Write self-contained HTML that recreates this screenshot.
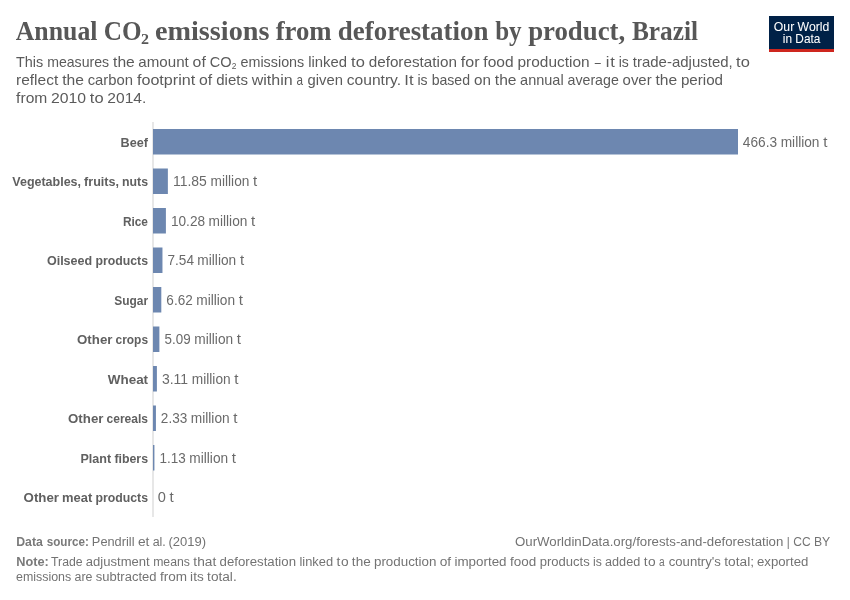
<!DOCTYPE html>
<html>
<head>
<meta charset="utf-8">
<title>Annual CO2 emissions from deforestation by product, Brazil</title>
<style>
html,body{margin:0;padding:0;background:#fff;width:850px;height:600px;overflow:hidden;}
svg{display:block;will-change:transform;}
text{font-family:"Liberation Sans",sans-serif;}
.title{font-family:"Liberation Serif",serif;font-weight:700;font-size:26.5px;fill:#575757;stroke:#575757;stroke-width:0px;}
.title.sb{font-size:14.575000000000001px;}
.sub{font-size:15.0px;fill:#5b5b5b;}
.sub.sb{font-size:9.0px;}
.cat{font-size:13.5px;font-weight:bold;fill:#606060;}
.val{font-size:13.75px;fill:#6a6a6a;}
.foot{font-size:12.5px;fill:#737373;}
.foot.b{font-weight:bold;fill:#7a7a7a;}
.logo{font-size:12.0px;font-weight:normal;fill:#fff;stroke:#fff;stroke-width:0.05px;}
</style>
</head>
<body>
<svg width="850" height="600" viewBox="0 0 850 600">
<rect x="0" y="0" width="850" height="600" fill="#fff"/>
<rect x="152.5" y="122" width="1" height="395" fill="#d0d0d0"/>
<g fill="#6d87b0">
<rect x="153" y="129.00" width="585.00" height="25.5"/>
<rect x="153" y="168.50" width="14.87" height="25.5"/>
<rect x="153" y="208.00" width="12.90" height="25.5"/>
<rect x="153" y="247.50" width="9.46" height="25.5"/>
<rect x="153" y="287.00" width="8.31" height="25.5"/>
<rect x="153" y="326.50" width="6.39" height="25.5"/>
<rect x="153" y="366.00" width="3.90" height="25.5"/>
<rect x="153" y="405.50" width="2.92" height="25.5"/>
<rect x="153" y="445.00" width="1.42" height="25.5"/>
</g>
<rect x="769" y="16" width="65" height="33" fill="#002147"/>
<rect x="769" y="49" width="65" height="3" fill="#ce261e"/>
<text class="logo" x="801.6" y="30.9" text-anchor="middle" textLength="55.5" lengthAdjust="spacingAndGlyphs">Our World</text>
<text class="logo" x="801.6" y="42.9" text-anchor="middle" textLength="37.5" lengthAdjust="spacingAndGlyphs">in Data</text>
<text class="title" x="15.75" y="40.00" textLength="81.69" lengthAdjust="spacingAndGlyphs">Annual</text>
<text class="title" x="103.87" y="40.00" textLength="37.76" lengthAdjust="spacingAndGlyphs">CO</text>
<text class="title" x="154.93" y="40.00" textLength="114.55" lengthAdjust="spacingAndGlyphs">emissions</text>
<text class="title" x="275.70" y="40.00" textLength="55.95" lengthAdjust="spacingAndGlyphs">from</text>
<text class="title" x="337.81" y="40.00" textLength="150.70" lengthAdjust="spacingAndGlyphs">deforestation</text>
<text class="title" x="495.18" y="40.00" textLength="26.46" lengthAdjust="spacingAndGlyphs">by</text>
<text class="title" x="528.16" y="40.00" textLength="97.06" lengthAdjust="spacingAndGlyphs">product,</text>
<text class="title" x="631.98" y="40.00" textLength="66.05" lengthAdjust="spacingAndGlyphs">Brazil</text>
<text class="title sb" x="141.13" y="44.00" textLength="8.01" lengthAdjust="spacingAndGlyphs">2</text>
<text class="sub" x="15.90" y="66.60" textLength="27.24" lengthAdjust="spacingAndGlyphs">This</text>
<text class="sub" x="47.15" y="66.60" textLength="61.94" lengthAdjust="spacingAndGlyphs">measures</text>
<text class="sub" x="113.09" y="66.60" textLength="21.72" lengthAdjust="spacingAndGlyphs">the</text>
<text class="sub" x="138.36" y="66.60" textLength="50.43" lengthAdjust="spacingAndGlyphs">amount</text>
<text class="sub" x="192.62" y="66.60" textLength="13.18" lengthAdjust="spacingAndGlyphs">of</text>
<text class="sub" x="209.79" y="66.60" textLength="21.85" lengthAdjust="spacingAndGlyphs">CO</text>
<text class="sub sb" x="231.75" y="68.60" textLength="4.70" lengthAdjust="spacingAndGlyphs">2</text>
<text class="sub" x="240.50" y="66.60" textLength="63.75" lengthAdjust="spacingAndGlyphs">emissions</text>
<text class="sub" x="308.24" y="66.60" textLength="38.83" lengthAdjust="spacingAndGlyphs">linked</text>
<text class="sub" transform="matrix(1.1000,0,0,1,351.07,66.60)" x="0" y="0" textLength="12.59" lengthAdjust="spacing">to</text>
<text class="sub" x="368.69" y="66.60" textLength="88.19" lengthAdjust="spacingAndGlyphs">deforestation</text>
<text class="sub" x="460.83" y="66.60" textLength="18.70" lengthAdjust="spacingAndGlyphs">for</text>
<text class="sub" x="483.34" y="66.60" textLength="30.25" lengthAdjust="spacingAndGlyphs">food</text>
<text class="sub" x="517.52" y="66.60" textLength="72.08" lengthAdjust="spacingAndGlyphs">production</text>
<text class="sub" x="594.76" y="66.60" textLength="6.02" lengthAdjust="spacingAndGlyphs">–</text>
<text class="sub" transform="matrix(1.1000,0,0,1,605.68,66.60)" x="0" y="0" textLength="8.39" lengthAdjust="spacing">it</text>
<text class="sub" x="618.68" y="66.60" textLength="10.12" lengthAdjust="spacingAndGlyphs">is</text>
<text class="sub" x="632.80" y="66.60" textLength="99.92" lengthAdjust="spacingAndGlyphs">trade-adjusted,</text>
<text class="sub" transform="matrix(1.1000,0,0,1,736.06,66.60)" x="0" y="0" textLength="12.59" lengthAdjust="spacing">to</text>
<text class="sub" x="16.03" y="84.60" textLength="42.25" lengthAdjust="spacingAndGlyphs">reflect</text>
<text class="sub" x="62.21" y="84.60" textLength="21.72" lengthAdjust="spacingAndGlyphs">the</text>
<text class="sub" x="87.64" y="84.60" textLength="45.34" lengthAdjust="spacingAndGlyphs">carbon</text>
<text class="sub" x="136.95" y="84.60" textLength="58.23" lengthAdjust="spacingAndGlyphs">footprint</text>
<text class="sub" x="199.01" y="84.60" textLength="13.18" lengthAdjust="spacingAndGlyphs">of</text>
<text class="sub" x="216.22" y="84.60" textLength="31.69" lengthAdjust="spacingAndGlyphs">diets</text>
<text class="sub" x="251.74" y="84.60" textLength="40.91" lengthAdjust="spacingAndGlyphs">within</text>
<text class="sub" x="296.41" y="84.60" textLength="6.50" lengthAdjust="spacingAndGlyphs">a</text>
<text class="sub" x="307.55" y="84.60" textLength="35.37" lengthAdjust="spacingAndGlyphs">given</text>
<text class="sub" x="346.73" y="84.60" textLength="54.39" lengthAdjust="spacingAndGlyphs">country.</text>
<text class="sub" transform="matrix(1.1000,0,0,1,404.21,84.60)" x="0" y="0" textLength="8.63" lengthAdjust="spacing">It</text>
<text class="sub" x="417.46" y="84.60" textLength="10.14" lengthAdjust="spacingAndGlyphs">is</text>
<text class="sub" x="431.63" y="84.60" textLength="38.39" lengthAdjust="spacingAndGlyphs">based</text>
<text class="sub" x="473.99" y="84.60" textLength="16.90" lengthAdjust="spacingAndGlyphs">on</text>
<text class="sub" x="494.80" y="84.60" textLength="21.70" lengthAdjust="spacingAndGlyphs">the</text>
<text class="sub" x="520.09" y="84.60" textLength="43.56" lengthAdjust="spacingAndGlyphs">annual</text>
<text class="sub" x="567.49" y="84.60" textLength="51.33" lengthAdjust="spacingAndGlyphs">average</text>
<text class="sub" x="622.60" y="84.60" textLength="29.04" lengthAdjust="spacingAndGlyphs">over</text>
<text class="sub" x="655.41" y="84.60" textLength="21.70" lengthAdjust="spacingAndGlyphs">the</text>
<text class="sub" x="680.91" y="84.60" textLength="42.15" lengthAdjust="spacingAndGlyphs">period</text>
<text class="sub" x="16.13" y="102.60" textLength="31.19" lengthAdjust="spacingAndGlyphs">from</text>
<text class="sub" x="50.99" y="102.60" textLength="35.08" lengthAdjust="spacingAndGlyphs">2010</text>
<text class="sub" transform="matrix(1.1000,0,0,1,89.79,102.60)" x="0" y="0" textLength="12.59" lengthAdjust="spacing">to</text>
<text class="sub" x="107.33" y="102.60" textLength="39.03" lengthAdjust="spacingAndGlyphs">2014.</text>
<text class="cat" x="120.50" y="146.50" textLength="27.42" lengthAdjust="spacingAndGlyphs">Beef</text>
<text class="val" x="742.84" y="146.50" textLength="34.25" lengthAdjust="spacingAndGlyphs">466.3</text>
<text class="val" x="780.68" y="146.50" textLength="38.82" lengthAdjust="spacingAndGlyphs">million</text>
<text class="val" x="823.23" y="146.50" textLength="4.20" lengthAdjust="spacingAndGlyphs">t</text>
<text class="cat" x="12.31" y="186.00" textLength="68.72" lengthAdjust="spacingAndGlyphs">Vegetables,</text>
<text class="cat" x="84.06" y="186.00" textLength="34.97" lengthAdjust="spacingAndGlyphs">fruits,</text>
<text class="cat" x="122.02" y="186.00" textLength="26.06" lengthAdjust="spacingAndGlyphs">nuts</text>
<text class="val" x="172.91" y="186.00" textLength="33.89" lengthAdjust="spacingAndGlyphs">11.85</text>
<text class="val" x="210.55" y="186.00" textLength="38.82" lengthAdjust="spacingAndGlyphs">million</text>
<text class="val" x="253.10" y="186.00" textLength="4.20" lengthAdjust="spacingAndGlyphs">t</text>
<text class="cat" x="122.88" y="225.50" textLength="25.11" lengthAdjust="spacingAndGlyphs">Rice</text>
<text class="val" x="170.96" y="225.50" textLength="34.12" lengthAdjust="spacingAndGlyphs">10.28</text>
<text class="val" x="208.58" y="225.50" textLength="38.82" lengthAdjust="spacingAndGlyphs">million</text>
<text class="val" x="251.13" y="225.50" textLength="4.20" lengthAdjust="spacingAndGlyphs">t</text>
<text class="cat" x="46.93" y="265.00" textLength="45.25" lengthAdjust="spacingAndGlyphs">Oilseed</text>
<text class="cat" x="95.41" y="265.00" textLength="52.66" lengthAdjust="spacingAndGlyphs">products</text>
<text class="val" x="167.49" y="265.00" textLength="26.46" lengthAdjust="spacingAndGlyphs">7.54</text>
<text class="val" x="197.37" y="265.00" textLength="38.82" lengthAdjust="spacingAndGlyphs">million</text>
<text class="val" x="239.92" y="265.00" textLength="4.20" lengthAdjust="spacingAndGlyphs">t</text>
<text class="cat" x="114.32" y="304.50" textLength="33.81" lengthAdjust="spacingAndGlyphs">Sugar</text>
<text class="val" x="166.35" y="304.50" textLength="26.38" lengthAdjust="spacingAndGlyphs">6.62</text>
<text class="val" x="196.22" y="304.50" textLength="38.82" lengthAdjust="spacingAndGlyphs">million</text>
<text class="val" x="238.77" y="304.50" textLength="4.20" lengthAdjust="spacingAndGlyphs">t</text>
<text class="cat" x="77.05" y="344.00" textLength="35.41" lengthAdjust="spacingAndGlyphs">Other</text>
<text class="cat" x="115.53" y="344.00" textLength="32.53" lengthAdjust="spacingAndGlyphs">crops</text>
<text class="val" x="164.60" y="344.00" textLength="26.05" lengthAdjust="spacingAndGlyphs">5.09</text>
<text class="val" x="194.30" y="344.00" textLength="38.82" lengthAdjust="spacingAndGlyphs">million</text>
<text class="val" x="236.85" y="344.00" textLength="4.20" lengthAdjust="spacingAndGlyphs">t</text>
<text class="cat" x="107.74" y="383.50" textLength="40.35" lengthAdjust="spacingAndGlyphs">Wheat</text>
<text class="val" x="161.94" y="383.50" textLength="26.16" lengthAdjust="spacingAndGlyphs">3.11</text>
<text class="val" x="191.81" y="383.50" textLength="38.82" lengthAdjust="spacingAndGlyphs">million</text>
<text class="val" x="234.36" y="383.50" textLength="4.20" lengthAdjust="spacingAndGlyphs">t</text>
<text class="cat" x="68.05" y="423.00" textLength="35.41" lengthAdjust="spacingAndGlyphs">Other</text>
<text class="cat" x="106.53" y="423.00" textLength="41.54" lengthAdjust="spacingAndGlyphs">cereals</text>
<text class="val" x="160.87" y="423.00" textLength="26.37" lengthAdjust="spacingAndGlyphs">2.33</text>
<text class="val" x="190.83" y="423.00" textLength="38.82" lengthAdjust="spacingAndGlyphs">million</text>
<text class="val" x="233.38" y="423.00" textLength="4.20" lengthAdjust="spacingAndGlyphs">t</text>
<text class="cat" x="80.49" y="462.50" textLength="30.68" lengthAdjust="spacingAndGlyphs">Plant</text>
<text class="cat" x="114.39" y="462.50" textLength="33.69" lengthAdjust="spacingAndGlyphs">fibers</text>
<text class="val" x="159.49" y="462.50" textLength="26.24" lengthAdjust="spacingAndGlyphs">1.13</text>
<text class="val" x="189.33" y="462.50" textLength="38.82" lengthAdjust="spacingAndGlyphs">million</text>
<text class="val" x="231.88" y="462.50" textLength="4.20" lengthAdjust="spacingAndGlyphs">t</text>
<text class="cat" x="23.61" y="502.00" textLength="35.41" lengthAdjust="spacingAndGlyphs">Other</text>
<text class="cat" x="62.07" y="502.00" textLength="30.18" lengthAdjust="spacingAndGlyphs">meat</text>
<text class="cat" x="95.41" y="502.00" textLength="52.66" lengthAdjust="spacingAndGlyphs">products</text>
<text class="val" x="157.83" y="502.00" textLength="8.12" lengthAdjust="spacingAndGlyphs">0</text>
<text class="val" x="169.51" y="502.00" textLength="4.20" lengthAdjust="spacingAndGlyphs">t</text>
<text class="foot b" x="16.22" y="545.50" textLength="26.65" lengthAdjust="spacingAndGlyphs">Data</text>
<text class="foot b" x="46.72" y="545.50" textLength="42.15" lengthAdjust="spacingAndGlyphs">source:</text>
<text class="foot" x="91.89" y="545.50" textLength="42.63" lengthAdjust="spacingAndGlyphs">Pendrill</text>
<text class="foot" transform="matrix(1.1000,0,0,1,137.89,545.50)" x="0" y="0" textLength="10.45" lengthAdjust="spacing">et</text>
<text class="foot" x="152.63" y="545.50" textLength="13.15" lengthAdjust="spacingAndGlyphs">al.</text>
<text class="foot" x="168.45" y="545.50" textLength="37.55" lengthAdjust="spacingAndGlyphs">(2019)</text>
<text class="foot" x="514.97" y="545.50" textLength="268.38" lengthAdjust="spacingAndGlyphs">OurWorldinData.org/forests-and-deforestation</text>
<text class="foot" x="786.81" y="545.50" textLength="2.97" lengthAdjust="spacingAndGlyphs">|</text>
<text class="foot" x="793.26" y="545.50" textLength="17.38" lengthAdjust="spacingAndGlyphs">CC</text>
<text class="foot" x="813.95" y="545.50" textLength="16.30" lengthAdjust="spacingAndGlyphs">BY</text>
<text class="foot b" x="16.19" y="565.50" textLength="32.58" lengthAdjust="spacingAndGlyphs">Note:</text>
<text class="foot" x="51.09" y="565.50" textLength="31.61" lengthAdjust="spacingAndGlyphs">Trade</text>
<text class="foot" x="85.84" y="565.50" textLength="63.89" lengthAdjust="spacingAndGlyphs">adjustment</text>
<text class="foot" x="153.18" y="565.50" textLength="36.75" lengthAdjust="spacingAndGlyphs">means</text>
<text class="foot" x="193.38" y="565.50" textLength="22.87" lengthAdjust="spacingAndGlyphs">that</text>
<text class="foot" x="219.60" y="565.50" textLength="76.42" lengthAdjust="spacingAndGlyphs">deforestation</text>
<text class="foot" x="299.42" y="565.50" textLength="33.67" lengthAdjust="spacingAndGlyphs">linked</text>
<text class="foot" transform="matrix(1.1000,0,0,1,336.56,565.50)" x="0" y="0" textLength="10.89" lengthAdjust="spacing">to</text>
<text class="foot" x="351.89" y="565.50" textLength="18.82" lengthAdjust="spacingAndGlyphs">the</text>
<text class="foot" x="373.98" y="565.50" textLength="62.46" lengthAdjust="spacingAndGlyphs">production</text>
<text class="foot" x="439.70" y="565.50" textLength="11.44" lengthAdjust="spacingAndGlyphs">of</text>
<text class="foot" x="454.45" y="565.50" textLength="52.09" lengthAdjust="spacingAndGlyphs">imported</text>
<text class="foot" x="510.02" y="565.50" textLength="26.21" lengthAdjust="spacingAndGlyphs">food</text>
<text class="foot" x="539.67" y="565.50" textLength="50.06" lengthAdjust="spacingAndGlyphs">products</text>
<text class="foot" x="593.00" y="565.50" textLength="8.78" lengthAdjust="spacingAndGlyphs">is</text>
<text class="foot" x="605.04" y="565.50" textLength="35.19" lengthAdjust="spacingAndGlyphs">added</text>
<text class="foot" transform="matrix(1.1000,0,0,1,643.71,565.50)" x="0" y="0" textLength="10.89" lengthAdjust="spacing">to</text>
<text class="foot" x="658.96" y="565.50" textLength="5.65" lengthAdjust="spacingAndGlyphs">a</text>
<text class="foot" x="668.75" y="565.50" textLength="52.14" lengthAdjust="spacingAndGlyphs">country&#39;s</text>
<text class="foot" x="724.31" y="565.50" textLength="29.76" lengthAdjust="spacingAndGlyphs">total;</text>
<text class="foot" x="757.01" y="565.50" textLength="51.38" lengthAdjust="spacingAndGlyphs">exported</text>
<text class="foot" x="16.01" y="580.70" textLength="55.24" lengthAdjust="spacingAndGlyphs">emissions</text>
<text class="foot" x="74.52" y="580.70" textLength="17.97" lengthAdjust="spacingAndGlyphs">are</text>
<text class="foot" x="95.82" y="580.70" textLength="60.66" lengthAdjust="spacingAndGlyphs">subtracted</text>
<text class="foot" x="159.99" y="580.70" textLength="27.04" lengthAdjust="spacingAndGlyphs">from</text>
<text class="foot" x="190.12" y="580.70" textLength="13.58" lengthAdjust="spacingAndGlyphs">its</text>
<text class="foot" x="207.10" y="580.70" textLength="29.61" lengthAdjust="spacingAndGlyphs">total.</text>
</svg>
</body>
</html>
